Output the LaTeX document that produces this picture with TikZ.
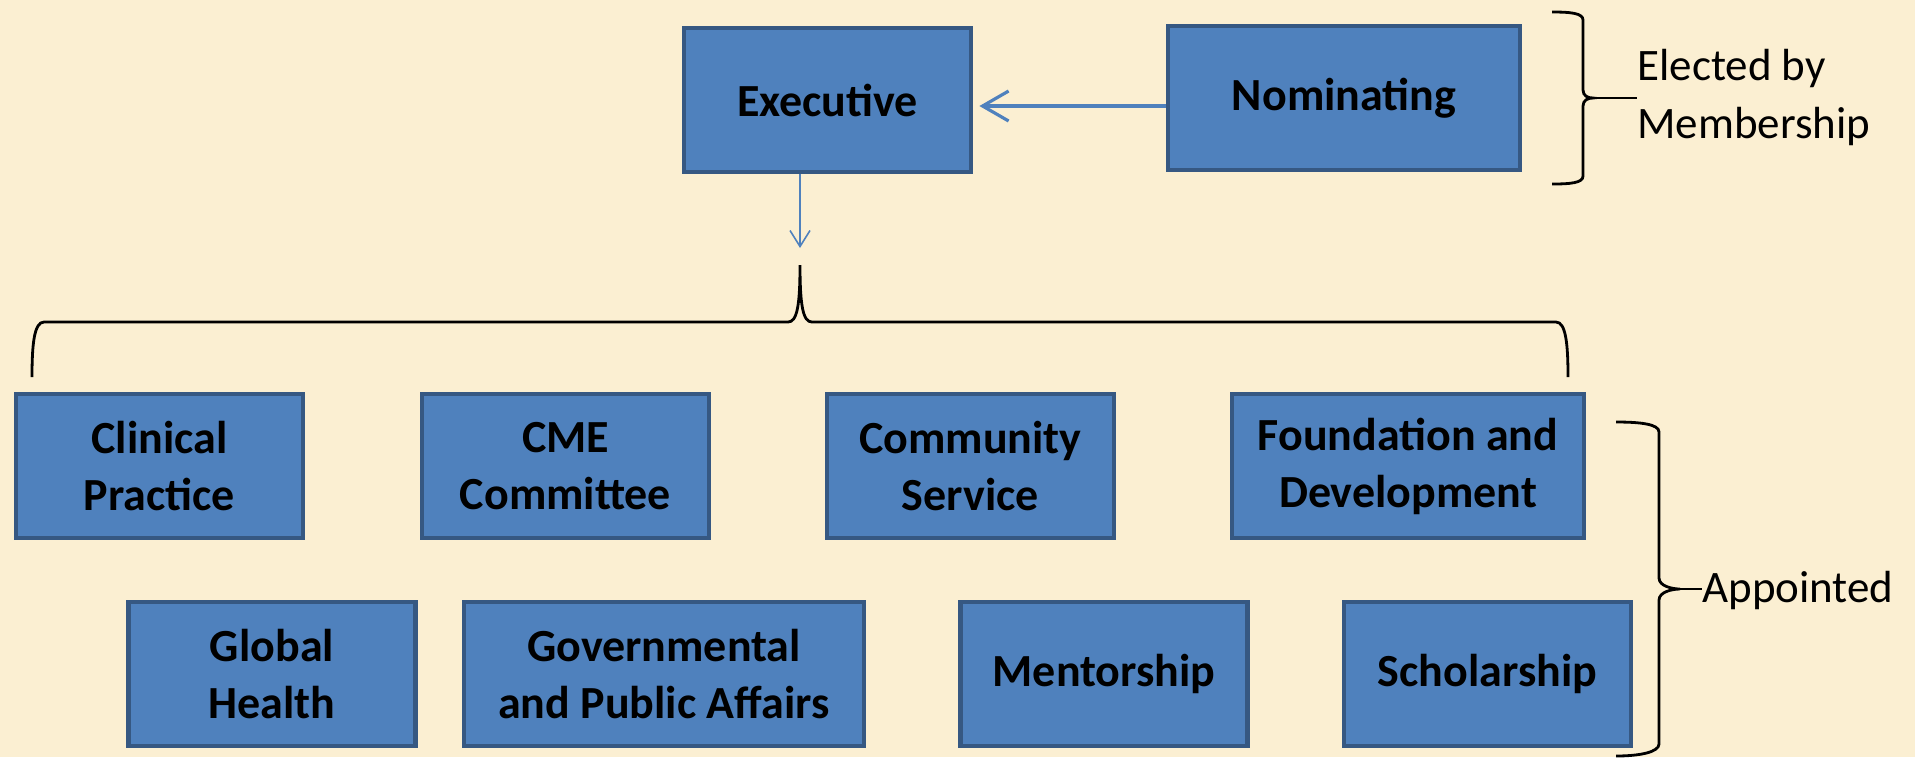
\documentclass[tikz,border=0pt]{standalone}
\usepackage{fontspec}
\setmainfont{Carlito}
\usetikzlibrary{arrows.meta,positioning,calc}
\definecolor{parchment}{RGB}{251,239,210}
\definecolor{boxfill}{RGB}{79,129,189}
\definecolor{boxedge}{RGB}{54,88,130}

\begin{document}
\begin{tikzpicture}[
    x=0.5pt, y=-0.5pt,
    cmte/.style={rectangle, draw=boxedge, fill=boxfill, line width=2.4pt, align=center, minimum width=143.5pt, minimum height=72pt, inner sep=0pt, font=\fontsize{23}{28.5}\selectfont\bfseries},
    widecmte/.style={cmte, minimum width=176pt},
    arrow/.style={draw=boxfill, line width=1.6pt, -{Straight Barb[length=13pt,width=15pt]}},
    thinarrow/.style={draw=boxfill, line width=0.8pt, -{Straight Barb[length=8pt,width=10pt]}},
    brace/.style={draw=black, line width=1.4pt},
    note/.style={align=left, anchor=west, inner sep=0pt, font=\fontsize{22.5}{29}\selectfont}
]
    \fill[parchment] (0,0) rectangle (1915,757);

    % elected committees
    \node[cmte] (exec) at (827.5,100) {Executive};
    \node[widecmte] (nom) at (1344,98) {Nominating};

    % appointed committees, first row
    \node[cmte] (clin) at (159.5,466) {Clinical\\Practice};
    \node[cmte] (cme) at (565.5,466) {CME\\Committee};
    \node[cmte] (comm) at (970.5,466) {Community\\Service};
    \node[widecmte] (found) at (1408,466) {Foundation and\\Development};

    % appointed committees, second row
    \node[cmte] (glob) at (272,674) {Global\\Health};
    \node[cmte, minimum width=200pt] (gov) at (664,674) {Governmental\\and Public Affairs};
    \node[cmte] (ment) at (1104,674) {Mentorship};
    \node[cmte] (schol) at (1487.5,674) {Scholarship};

    % labels
    \node[note] (elect) at (1637,97) {Elected by\\Membership};
    \node[note] (appt) at (1702,590) {Appointed};

    \coordinate (btip) at (800,265);
    \coordinate (etip) at (1593,98);
    \coordinate (atip) at (1680,589);

    \draw[arrow] ([yshift=-4pt]nom.west) -- ([yshift=-4pt,xshift=3pt]nom.west -| exec.east);
    \draw[thinarrow] (exec.south -| btip) -- ([yshift=8.5pt]btip);

    % braces
    \draw[brace] (32,377) .. controls (32,345) and (34,322) .. (44,322) -- (788,322)
        .. controls (797,322) and (800,306) .. (btip)
        .. controls (800,306) and (803,322) .. (812,322) -- (1556,322)
        .. controls (1566,322) and (1568,345) .. (1568,377);
    \draw[brace] (1552,12) .. controls (1570,12) and (1583,13) .. (1583,20) -- (1583,90)
        .. controls (1583,96) and (1588,98) .. (etip)
        .. controls (1588,98) and (1583,100) .. (1583,106) -- (1583,176)
        .. controls (1583,183) and (1570,184) .. (1552,184);
    \draw[brace] (etip) -- (elect.west |- etip);
    \draw[brace] (1616,422) .. controls (1640,422) and (1659,424) .. (1659,432) -- (1659,578)
        .. controls (1659,586) and (1672,589) .. (atip)
        .. controls (1672,589) and (1659,592) .. (1659,600) -- (1659,744)
        .. controls (1659,752) and (1640,756) .. (1616,756);
    \draw[brace] (atip) -- (appt.west |- atip);
\end{tikzpicture}
\end{document}
